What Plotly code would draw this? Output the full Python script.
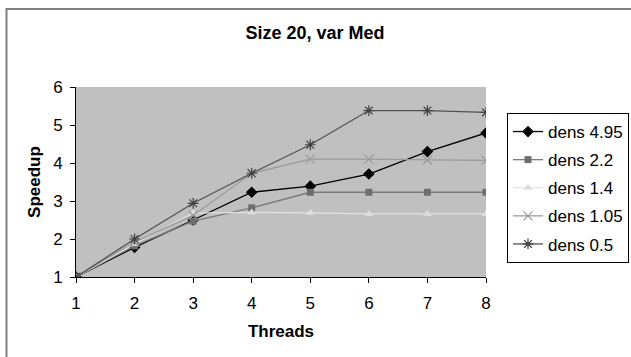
import plotly.graph_objects as go

threads = [1, 2, 3, 4, 5, 6, 7, 8]

dens_4_95 = [1.0, 1.78, 2.50, 3.23, 3.39, 3.71, 4.30, 4.79]
dens_2_2 = [1.0, 1.82, 2.47, 2.82, 3.23, 3.23, 3.23, 3.23]
dens_1_4 = [1.0, 1.87, 2.68, 2.70, 2.69, 2.66, 2.66, 2.66]
dens_1_05 = [1.0, 1.92, 2.62, 3.73, 4.10, 4.10, 4.08, 4.07]
dens_0_5 = [1.0, 2.00, 2.94, 3.73, 4.48, 5.38, 5.38, 5.33]

series = [
    ("dens 4.95", dens_4_95, "#000000", "diamond", "#000000", 9),
    ("dens 2.2", dens_2_2, "#7a7a7a", "square", "#6e6e6e", 7),
    ("dens 1.4", dens_1_4, "#e2e2e2", "triangle-up", "#dcdcdc", 8),
    ("dens 1.05", dens_1_05, "#9a9a9a", "x-thin-open", "#9a9a9a", 9),
    ("dens 0.5", dens_0_5, "#505050", "asterisk-open", "#404040", 9),
]

FONT = "Liberation Sans, Arial, sans-serif"

fig = go.Figure()
for i, (name, ys, lc, sym, mc, ms) in enumerate(series):
    open_sym = sym.endswith("-open")
    fig.add_trace(go.Scatter(
        x=threads, y=ys, name=name, mode="lines+markers",
        legendgroup=f"g{i}",
        line=dict(color=lc, width=1.3),
        marker=dict(symbol=sym, size=ms, color=mc,
                    line=dict(color=mc, width=1.2 if open_sym else 0)),
    ))

fig.update_layout(
    width=631, height=357,
    margin=dict(l=76, r=145, t=87, b=80, autoexpand=False),
    paper_bgcolor="white",
    plot_bgcolor="#c0c0c0",
    font=dict(family=FONT, size=17, color="black"),
    title=dict(text="<b>Size 20, var Med</b>", x=315 / 631, xref="container",
               xanchor="center", y=1 - 33 / 357, yanchor="middle",
               font=dict(size=18, family=FONT)),
    showlegend=True,
    legend=dict(x=(507 - 76) / 410, y=(277 - 113) / 190,
                xanchor="left", yanchor="top",
                bordercolor="black", borderwidth=1, bgcolor="white",
                font=dict(size=17, family=FONT),
                tracegroupgap=3, itemwidth=30),
    shapes=[dict(type="rect", xref="paper", yref="paper",
                 x0=(6.5 - 76) / 410, x1=(640 - 76) / 410,
                 y0=(277 - 365) / 190, y1=(277 - 9) / 190,
                 line=dict(color="#808080", width=2), layer="below")],
)

fig.update_xaxes(
    range=[1, 8], tickmode="array", tickvals=threads,
    ticks="outside", ticklen=5, tickcolor="black",
    showline=True, linecolor="black", linewidth=1,
    showgrid=False, zeroline=False, ticklabelstandoff=6,
    title=dict(text="<b>Threads</b>", font=dict(size=17, family=FONT), standoff=12),
)
fig.update_yaxes(
    range=[1, 6], tickmode="array", tickvals=[1, 2, 3, 4, 5, 6],
    ticks="outside", ticklen=5, tickcolor="black",
    showline=True, linecolor="black", linewidth=1,
    showgrid=False, zeroline=False, ticklabelstandoff=4,
    title=dict(text="<b>Speedup</b>", font=dict(size=17, family=FONT), standoff=8),
)

fig.write_html("out.html")
